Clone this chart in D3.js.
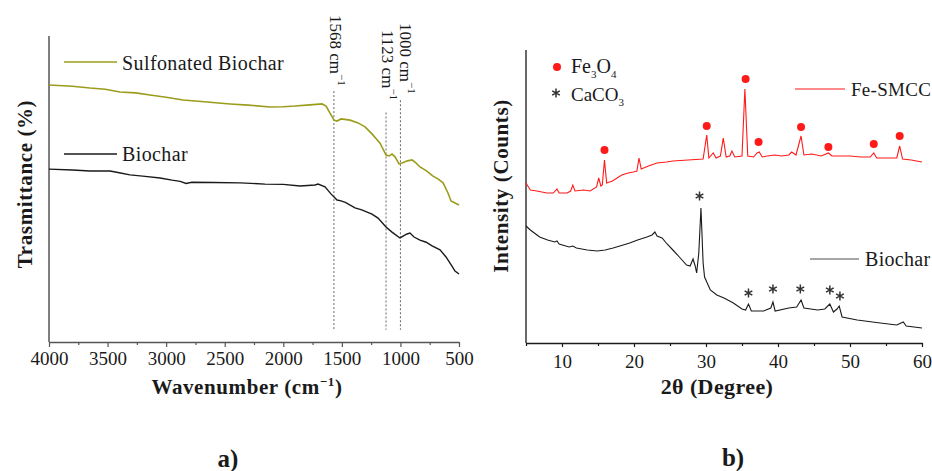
<!DOCTYPE html>
<html>
<head>
<meta charset="utf-8">
<script src="https://cdn.jsdelivr.net/npm/d3@7"></script>
<style>
  html, body { margin: 0; padding: 0; background: #fff; }
  svg { display: block; }
  text { font-family: "Liberation Serif", "Times New Roman", serif; fill: #1a1a1a; }
</style>
</head>
<body>
<svg id="chart" width="932" height="471"></svg>
<script>
// ---------- DATA ----------
// Panel a) FTIR: wavenumber (cm-1) vs transmittance (arbitrary %)
const ftirTicks = [4000, 3500, 3000, 2500, 2000, 1500, 1000, 500];
const ftirMinorTicks = [3750, 3250, 2750, 2250, 1750, 1250, 750];
const sulfonatedWn = [4000, 3800, 3650, 3520, 3394, 3260, 3138, 3000, 2856, 2700, 2455, 2300, 2113, 2000, 1900, 1772, 1669, 1635, 1601, 1567, 1541, 1507, 1430, 1362, 1302, 1243, 1174, 1123, 1097, 1072, 1046, 1012, 986, 940, 901, 870, 833, 780, 722, 680, 636, 594, 568, 534, 500];
const sulfonatedT  = [84.0, 83.6, 83.0, 82.6, 81.7, 81.4, 80.7, 80.0, 79.1, 78.6, 77.8, 77.4, 76.8, 76.9, 77.1, 77.5, 77.8, 77.1, 74.8, 72.5, 72.2, 72.9, 72.5, 71.6, 70.3, 68.0, 65.0, 61.1, 60.8, 61.4, 60.5, 58.2, 58.5, 59.2, 59.5, 58.6, 57.2, 56.0, 54.2, 53.3, 52.0, 48.7, 46.1, 45.4, 44.8];
const biocharWn = [4000, 3800, 3650, 3479, 3400, 3309, 3200, 3052, 2950, 2880, 2830, 2780, 2600, 2369, 2156, 2000, 1857, 1729, 1703, 1644, 1593, 1541, 1507, 1470, 1388, 1330, 1243, 1191, 1123, 1072, 1004, 944, 918, 884, 833, 780, 730, 662, 611, 560, 534, 500];
const biocharT  = [56.5, 56.2, 55.9, 55.9, 55.3, 54.6, 54.2, 53.6, 52.9, 52.5, 51.8, 52.2, 52.1, 52.0, 51.6, 51.5, 51.0, 51.3, 51.6, 50.7, 48.4, 46.4, 46.1, 45.6, 43.8, 43.2, 41.8, 40.5, 37.6, 35.9, 34.0, 35.3, 35.6, 34.3, 33.3, 32.6, 31.4, 30.1, 27.8, 24.8, 23.2, 22.2];
const bandMarks = [1568, 1123, 1000];
const bandTops  = [82, 75, 79];   // top of the dotted guide (transmittance units)

// Panel b) XRD: 2θ (degree) vs intensity (counts, arbitrary)
const xrdTicks = [10, 20, 30, 40, 50, 60];
const xrdMinorTicks = [5, 15, 25, 35, 45, 55];
const fesmccTheta = [5, 5.6, 6.5, 7.9, 8.8, 9.3, 9.6, 10.7, 11.2, 11.5, 11.8, 13.0, 13.9, 14.8, 15.1, 15.4, 15.6, 15.9, 16.2, 17.0, 18.3, 19.2, 19.9, 20.4, 20.7, 21.0, 22.0, 23.2, 24.5, 25.4, 27.5, 29.6, 30.1, 30.4, 31.0, 31.4, 32.0, 32.4, 32.8, 33.3, 33.6, 34.0, 35.0, 35.4, 35.8, 36.6, 37.1, 37.4, 37.8, 38.5, 39.5, 40.5, 41.5, 41.9, 42.5, 43.2, 43.6, 44.7, 46.0, 47.0, 47.5, 50.0, 51.5, 52.8, 53.3, 53.7, 55.5, 56.5, 56.9, 57.3, 58.5, 60];
const fesmccCounts = [1600, 1530, 1520, 1500, 1500, 1540, 1500, 1500, 1520, 1580, 1520, 1530, 1520, 1560, 1650, 1570, 1580, 1830, 1600, 1620, 1680, 1700, 1710, 1720, 1850, 1740, 1770, 1800, 1810, 1820, 1830, 1840, 2080, 1850, 1900, 1850, 1870, 2050, 1860, 1870, 1920, 1860, 1870, 2540, 1870, 1860, 1900, 1910, 1860, 1870, 1880, 1870, 1880, 1910, 1880, 2070, 1880, 1890, 1870, 1900, 1870, 1870, 1860, 1860, 1900, 1850, 1850, 1850, 1970, 1840, 1830, 1810];
const xrdBiocharTheta = [5, 5.6, 6.9, 8.0, 9.0, 9.3, 9.6, 11.0, 11.5, 12.0, 13.5, 14.9, 16.0, 17.1, 18.5, 19.4, 20.5, 21.8, 22.5, 22.9, 23.2, 23.9, 24.6, 25.4, 26.3, 27.3, 27.8, 28.2, 28.5, 28.7, 29.0, 29.3, 29.6, 29.8, 30.6, 31.5, 32.5, 33.8, 35.0, 35.5, 35.9, 36.3, 38.0, 39.0, 39.3, 39.6, 41.5, 42.6, 43.2, 43.6, 45.5, 46.5, 47.2, 47.7, 48.2, 48.5, 48.9, 51.0, 54.2, 56.5, 57.4, 57.8, 60];
const xrdBiocharCounts = [1170, 1130, 1060, 1030, 1010, 1020, 990, 960, 970, 950, 930, 920, 930, 950, 980, 1000, 1030, 1060, 1080, 1110, 1070, 1050, 990, 930, 860, 780, 770, 840, 770, 700, 900, 1350, 800, 660, 530, 480, 450, 400, 340, 330, 390, 320, 320, 350, 410, 320, 350, 360, 430, 350, 330, 340, 390, 310, 340, 370, 260, 230, 200, 180, 210, 170, 150];
const fe3o4Theta  = [15.9, 30.1, 35.5, 37.3, 43.2, 47.0, 53.3, 56.9];
const fe3o4Level  = [1930, 2170, 2640, 2010, 2160, 1960, 1990, 2070];
const caco3Theta  = [29.1, 35.9, 39.3, 43.1, 47.2, 48.6];
const caco3Level  = [1470, 500, 540, 540, 530, 470];

// ---------- DRAWING ----------
const svg = d3.select("#chart");
const olive = "#9c9c1c", red = "#ff1a1a", black = "#1a1a1a";
const SERIF = '"Liberation Serif", "Times New Roman", serif';

function richText(g, x, y, parts, o) {
  const size = o.size, small = o.small || Math.round(size * 0.62);
  const subDy = o.subDy || 7, supDy = o.supDy || 8;
  const grp = g.append("g");
  let cx = 0;
  parts.forEach(p => {
    const kind = p[1] || "n";
    const t = grp.append("text").attr("x", cx)
      .attr("y", kind === "sub" ? subDy : kind === "sup" ? -supDy : 0)
      .attr("font-size", kind === "n" ? size : small)
      .attr("font-weight", o.bold ? "bold" : null)
      .attr("letter-spacing", o.ls || 0)
      .style("font-family", SERIF)
      .text(p[0]);
    cx += t.node().getComputedTextLength();
  });
  let dx = 0;
  if (o.anchor === "middle") dx = -cx / 2;
  grp.attr("transform", `translate(${x},${y})${o.rotate ? ` rotate(${o.rotate})` : ""} translate(${dx},0)`);
  return grp;
}

// ===== Panel a =====
const xA = d3.scaleLinear().domain([4000, 500]).range([49, 459]);
const yA = d3.scaleLinear().domain([0, 100]).range([342, 36]);
const gA = svg.append("g");

gA.append("line").attr("x1", xA(4000)).attr("x2", xA(4000))
  .attr("y1", yA(100)).attr("y2", yA(0))
  .attr("stroke", "#555").attr("stroke-width", 1.5);

const axA = gA.append("g").attr("transform", `translate(0,${yA(0)})`)
  .call(d3.axisBottom(xA).tickValues(ftirTicks).tickSize(5).tickSizeOuter(0).tickPadding(5).tickFormat(d3.format("d")));
axA.attr("font-family", null);
axA.select(".domain").attr("stroke", "#555").attr("stroke-width", 1.5);
axA.selectAll(".tick line").attr("stroke", "#555").attr("stroke-width", 1.2);
axA.selectAll("text").attr("font-size", 19).attr("fill", "#222").style("font-family", SERIF);
const axAm = gA.append("g").attr("transform", `translate(0,${yA(0)})`)
  .call(d3.axisBottom(xA).tickValues(ftirMinorTicks).tickSize(3).tickFormat(""));
axAm.select(".domain").remove();
axAm.selectAll(".tick line").attr("stroke", "#555").attr("stroke-width", 1.2);

gA.selectAll(".guide").data(bandMarks).join("line")
  .attr("x1", d => xA(d)).attr("x2", d => xA(d))
  .attr("y1", (d, i) => yA(bandTops[i])).attr("y2", yA(4))
  .attr("stroke", "#666").attr("stroke-width", 1).attr("stroke-dasharray", "2,2");

const bandLabelX = [-4, -4, 0];
const bandLabelY = [15, 30, 23];
bandMarks.forEach((b, i) => {
  richText(gA, xA(b) + bandLabelX[i], bandLabelY[i], [[b + " cm"], ["\u22121", "sup"]], { size: 17, small: 11, rotate: 90 });
});

const lineA = d3.line().x(d => xA(d[0])).y(d => yA(d[1]));
gA.append("path").datum(sulfonatedWn.map((w, i) => [w, sulfonatedT[i]]))
  .attr("d", lineA).attr("fill", "none").attr("stroke", olive).attr("stroke-width", 1.6);
gA.append("path").datum(biocharWn.map((w, i) => [w, biocharT[i]]))
  .attr("d", lineA).attr("fill", "none").attr("stroke", black).attr("stroke-width", 1.4);

gA.append("line").attr("x1", 64).attr("x2", 117).attr("y1", 62).attr("y2", 62).attr("stroke", olive).attr("stroke-width", 1.6);
gA.append("text").attr("x", 122).attr("y", 70).attr("font-size", 20).attr("letter-spacing", 0.4).style("font-family", SERIF).text("Sulfonated Biochar");
gA.append("line").attr("x1", 64).attr("x2", 117).attr("y1", 154).attr("y2", 154).attr("stroke", black).attr("stroke-width", 1.4);
gA.append("text").attr("x", 122).attr("y", 161).attr("font-size", 20).attr("letter-spacing", 0.4).style("font-family", SERIF).text("Biochar");

richText(gA, 247, 394, [["Wavenumber (cm"], ["\u22121", "sup"], [")"]], { size: 21, small: 13, bold: true, ls: 0.6, anchor: "middle" });
gA.append("text").attr("transform", "translate(32,184) rotate(-90)").attr("text-anchor", "middle")
  .attr("font-size", 21).attr("font-weight", "bold").attr("letter-spacing", 0.6).style("font-family", SERIF).text("Trasmittance (%)");
gA.append("text").attr("x", 228).attr("y", 467).attr("text-anchor", "middle")
  .attr("font-size", 25).attr("font-weight", "bold").style("font-family", SERIF).text("a)");

// ===== Panel b =====
const xB = d3.scaleLinear().domain([5, 60]).range([526, 922]);
const yB = d3.scaleLinear().domain([0, 2930]).range([343, 50]);
const gB = svg.append("g");

gB.append("line").attr("x1", xB(5)).attr("x2", xB(5)).attr("y1", yB(2930)).attr("y2", yB(0))
  .attr("stroke", black).attr("stroke-width", 1.3);
const axB = gB.append("g").attr("transform", `translate(0,${yB(0)})`)
  .call(d3.axisBottom(xB).tickValues(xrdTicks).tickSize(4).tickSizeOuter(0).tickPadding(8).tickFormat(d3.format("d")));
axB.attr("font-family", null);
axB.select(".domain").attr("stroke", black).attr("stroke-width", 1.3);
axB.selectAll(".tick line").attr("stroke", black).attr("stroke-width", 1.2);
axB.selectAll("text").attr("font-size", 19).attr("fill", "#222").style("font-family", SERIF);
const axBm = gB.append("g").attr("transform", `translate(0,${yB(0)})`)
  .call(d3.axisBottom(xB).tickValues(xrdMinorTicks).tickSize(3).tickFormat(""));
axBm.select(".domain").remove();
axBm.selectAll(".tick line").attr("stroke", black).attr("stroke-width", 1.2);

const lineB = d3.line().x(d => xB(d[0])).y(d => yB(d[1]));
gB.append("path").datum(fesmccTheta.map((t, i) => [t, fesmccCounts[i]]))
  .attr("d", lineB).attr("fill", "none").attr("stroke", red).attr("stroke-width", 1.1);
gB.append("path").datum(xrdBiocharTheta.map((t, i) => [t, xrdBiocharCounts[i]]))
  .attr("d", lineB).attr("fill", "none").attr("stroke", black).attr("stroke-width", 1.1);

gB.selectAll(".dot").data(fe3o4Theta).join("circle")
  .attr("cx", d => xB(d)).attr("cy", (d, i) => yB(fe3o4Level[i])).attr("r", 4).attr("fill", red);
const star = d3.symbol().type(d3.symbolAsterisk).size(55);
gB.selectAll(".star").data(caco3Theta).join("path")
  .attr("d", star).attr("transform", (d, i) => `translate(${xB(d)},${yB(caco3Level[i])})`)
  .attr("fill", "none").attr("stroke", "#333").attr("stroke-width", 1.5);

gB.append("circle").attr("cx", 557).attr("cy", 67).attr("r", 4).attr("fill", red);
richText(gB, 571, 73, [["Fe"], ["3", "sub"], ["O"], ["4", "sub"]], { size: 20, small: 11, subDy: 5 });
gB.append("path").attr("d", star).attr("transform", "translate(556,93)").attr("fill", "none").attr("stroke", "#333").attr("stroke-width", 1.5);
richText(gB, 571, 101, [["CaCO"], ["3", "sub"]], { size: 19, small: 11, subDy: 5 });
gB.append("line").attr("x1", 795).attr("x2", 845).attr("y1", 89).attr("y2", 89).attr("stroke", red).attr("stroke-width", 1.2);
gB.append("text").attr("x", 851).attr("y", 96).attr("font-size", 19).attr("letter-spacing", 0.3).style("font-family", SERIF).text("Fe-SMCC");
gB.append("line").attr("x1", 810).attr("x2", 859).attr("y1", 259).attr("y2", 259).attr("stroke", "#888").attr("stroke-width", 1.5);
gB.append("text").attr("x", 865).attr("y", 266).attr("font-size", 20).attr("letter-spacing", 0.3).style("font-family", SERIF).text("Biochar");

gB.append("text").attr("x", 717).attr("y", 394).attr("text-anchor", "middle")
  .attr("font-size", 22).attr("font-weight", "bold").attr("letter-spacing", 0.4).style("font-family", SERIF).text("2\u03b8 (Degree)");
gB.append("text").attr("transform", "translate(508,186) rotate(-90)").attr("text-anchor", "middle")
  .attr("font-size", 21).attr("font-weight", "bold").attr("letter-spacing", 0.6).style("font-family", SERIF).text("Intensity (Counts)");
gB.append("text").attr("x", 733).attr("y", 466).attr("text-anchor", "middle")
  .attr("font-size", 25).attr("font-weight", "bold").style("font-family", SERIF).text("b)");
</script>
</body>
</html>
